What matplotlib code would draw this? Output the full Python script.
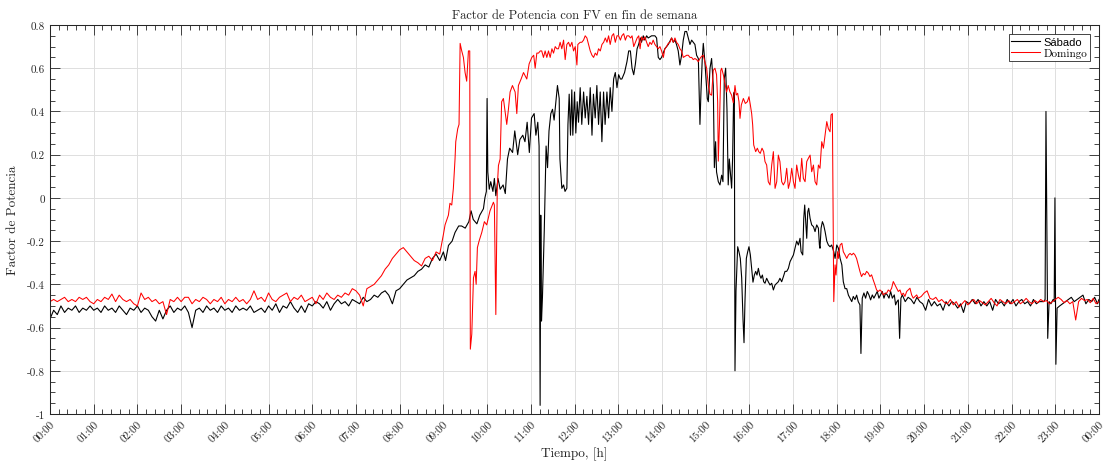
import numpy as np
import matplotlib

matplotlib.use("Agg")
import matplotlib.pyplot as plt
from matplotlib.ticker import MultipleLocator, FuncFormatter
from matplotlib.transforms import ScaledTranslation

plt.rcParams["font.family"] = "cmr10"
plt.rcParams["axes.unicode_minus"] = False
plt.rcParams["mathtext.fontset"] = "cm"

# ---- Sabado (black) ----
# 5-min readings 00:00 .. 08:55
sab_night_min = np.arange(0, 540, 5)
sab_night_fp = [
    -0.56, -0.52, -0.54, -0.50, -0.53, -0.51, -0.52, -0.50, -0.53, -0.51, -0.52, -0.50,
    -0.52, -0.51, -0.53, -0.50, -0.52, -0.51, -0.53, -0.50, -0.52, -0.54, -0.51, -0.52,
    -0.50, -0.53, -0.51, -0.52, -0.55, -0.57, -0.52, -0.56, -0.52, -0.50, -0.53, -0.51,
    -0.52, -0.50, -0.53, -0.60, -0.52, -0.51, -0.53, -0.50, -0.52, -0.51, -0.53, -0.50,
    -0.52, -0.51, -0.53, -0.50, -0.52, -0.51, -0.52, -0.50, -0.53, -0.52, -0.51, -0.53,
    -0.50, -0.52, -0.49, -0.53, -0.50, -0.51, -0.48, -0.51, -0.53, -0.50, -0.53, -0.49,
    -0.50, -0.48, -0.49, -0.51, -0.48, -0.52, -0.49, -0.47, -0.49, -0.48, -0.50, -0.47,
    -0.48, -0.49, -0.46, -0.48, -0.47, -0.45, -0.46, -0.44, -0.43, -0.45, -0.49, -0.43,
    -0.42, -0.40, -0.38, -0.37, -0.36, -0.34, -0.33, -0.31, -0.32, -0.28, -0.26, -0.29,
]
# irregular readings 09:00 .. 19:30
sab_day_min = [
    540, 543, 547, 552, 556, 561, 565, 570, 575, 578, 581, 586, 590, 595, 597, 599,
    600, 601, 603, 605, 608, 610, 612, 615, 618, 622, 625, 628, 631, 635, 638, 642,
    645, 649, 652, 655, 658, 661, 664.6, 667, 669.6, 671.4, 672.8, 673.7, 674.7, 676,
    678.5, 681, 683, 685, 687.5, 689.8, 692, 694, 696.6, 699, 700, 702.6, 705, 707,
    709.5, 711, 712.7, 714.5, 716.3, 717.7, 720, 721.8, 723.7, 725.5, 727.8, 730,
    732.5, 734.7, 737, 739.3, 741.6, 744, 746, 748.4, 750.7, 753, 755.3, 757.6, 759.9,
    762, 764.5, 766.8, 769, 771.4, 773.7, 776, 778.3, 780.6, 783, 785, 788.7, 792,
    794.4, 796.7, 799, 801.3, 803.6, 805.9, 808, 810.5, 812, 814.4, 816.6, 819, 821.2,
    825.8, 828, 830.4, 832.7, 835, 837.3, 839.5, 844, 848.7, 853.3, 855.6, 857.9, 860,
    862.4, 864.7, 867, 869.3, 871.6, 873.9, 876.2, 878.5, 880.8, 883, 885.3, 887.6,
    890, 892.2, 893.6, 895.4, 896.8, 899, 900.5, 902.3, 903.7, 906, 908.2, 910.5, 912,
    913.7, 915, 917.4, 919.7, 922, 923.8, 925.6, 927.5, 929.3, 931, 932.5, 933.9,
    935.7, 937, 938.5, 939.4, 940.3, 941.7, 944, 945.8, 947.6, 949.5, 951.3, 952.7,
    954, 955.9, 957.7, 959.5, 961.4, 963.2, 965, 966.9, 968.7, 970.5, 972.4, 974.2,
    976, 977.9, 979.7, 981.5, 983.8, 986, 988.4, 990.7, 993, 995.3, 997.6, 999.8,
    1002, 1004.4, 1006.7, 1009, 1011.3, 1013.6, 1015.9, 1018.2, 1020.5, 1022.7, 1025,
    1027.3, 1029.6, 1031, 1033.3, 1034.7, 1036, 1037.4, 1038.8, 1040.2, 1041.5,
    1043.4, 1045.6, 1048, 1050.2, 1052.5, 1054.8, 1056.2, 1057, 1058.5, 1060.3, 1062,
    1064, 1066.3, 1068.5, 1070.8, 1073, 1075.9, 1077.7, 1080, 1082.3, 1084.6, 1087,
    1089, 1091.4, 1093.7, 1096, 1098.3, 1100.6, 1102.7, 1105, 1107.3, 1109.5, 1111.8,
    1113.2, 1115, 1117.3, 1119.6, 1121.9, 1124.2, 1126.5, 1128.8, 1131, 1133.3,
    1135.6, 1137.9, 1140.2, 1142.5, 1144.8, 1147, 1149.4, 1151.7, 1154, 1156.3, 1159,
    1160.8, 1162.6, 1164.5, 1166.3, 1168.1, 1170,
]
sab_day_fp = [
    -0.25, -0.29, -0.22, -0.20, -0.16, -0.13, -0.13, -0.14, -0.11, -0.06, -0.10, -0.12, -0.08, -0.05, 0.00, 0.03,
    0.46, 0.12, 0.04, 0.075, 0.03, 0.09, 0.01, 0.09, 0.04, 0.06, 0.02, 0.18, 0.23, 0.21, 0.31, 0.20,
    0.27, 0.29, 0.26, 0.35, 0.21, 0.37, 0.39, 0.29, 0.35, 0.24, -0.96, -0.08, -0.57, -0.46,
    -0.15, 0.24, 0.14, 0.31, 0.39, 0.41, 0.36, 0.43, 0.52, 0.46, 0.18, 0.044, 0.06, 0.03,
    0.045, 0.34, 0.48, 0.29, 0.50, 0.29, 0.49, 0.30, 0.445, 0.35, 0.51, 0.34,
    0.49, 0.37, 0.47, 0.34, 0.51, 0.29, 0.48, 0.37, 0.52, 0.34, 0.49, 0.26, 0.49,
    0.34, 0.49, 0.37, 0.51, 0.40, 0.55, 0.58, 0.51, 0.57, 0.55, 0.55, 0.58, 0.63,
    0.68, 0.68, 0.60, 0.57, 0.62, 0.69, 0.71, 0.74, 0.72, 0.75, 0.73, 0.75, 0.74,
    0.75, 0.75, 0.75, 0.74, 0.65, 0.64, 0.65, 0.69, 0.71, 0.74, 0.72, 0.73, 0.71,
    0.68, 0.615, 0.66, 0.73, 0.77, 0.77, 0.74, 0.71, 0.73, 0.72, 0.71, 0.66,
    0.645, 0.34, 0.49, 0.645, 0.715, 0.63, 0.55, 0.46, 0.445, 0.60, 0.645, 0.52, 0.14,
    0.26, 0.12, 0.075, 0.06, 0.105, 0.075, 0.55, 0.60, 0.41, 0.06, 0.18, 0.12,
    0.045, 0.18, 0.48, 0.49, -0.80, -0.43, -0.226, -0.25, -0.28, -0.37, -0.56, -0.67,
    -0.48, -0.28, -0.25, -0.226, -0.264, -0.326, -0.39, -0.357, -0.34, -0.357, -0.326, -0.357,
    -0.372, -0.357, -0.388, -0.395, -0.372, -0.388, -0.403, -0.395, -0.426, -0.403, -0.395, -0.388,
    -0.372, -0.388, -0.365, -0.34, -0.34, -0.326, -0.295, -0.28, -0.264, -0.233, -0.20,
    -0.218, -0.187, -0.249, -0.264, -0.095, -0.033, -0.11, -0.187, -0.064, -0.048,
    -0.095, -0.125, -0.133, -0.156, -0.125, -0.14, -0.218, -0.233, -0.14, -0.11, -0.125,
    -0.156, -0.20, -0.218, -0.226, -0.218, -0.249, -0.28, -0.218, -0.233, -0.28, -0.31,
    -0.388, -0.42, -0.42, -0.45, -0.465, -0.48, -0.456, -0.47, -0.45, -0.48, -0.495,
    -0.72, -0.464, -0.44, -0.464, -0.433, -0.449, -0.472, -0.449, -0.464, -0.449,
    -0.433, -0.464, -0.449, -0.433, -0.464, -0.441, -0.449, -0.464, -0.433, -0.464, -0.449,
    -0.495, -0.48, -0.472, -0.65, -0.464, -0.449,
]
# 4-min readings 19:34 .. 22:42
sab_late_min = np.arange(1174, 1363, 4)
sab_late_fp = [
    -0.48, -0.46, -0.47, -0.49, -0.46, -0.48, -0.49, -0.52, -0.47, -0.50, -0.48, -0.50,
    -0.49, -0.52, -0.48, -0.50, -0.48, -0.49, -0.51, -0.49, -0.53, -0.48, -0.49, -0.47,
    -0.49, -0.47, -0.50, -0.48, -0.50, -0.48, -0.52, -0.47, -0.49, -0.48, -0.50, -0.47,
    -0.49, -0.47, -0.50, -0.48, -0.47, -0.49, -0.48, -0.50, -0.47, -0.49, -0.48, -0.48,
]
# spikes near 23:00 and end of day
sab_end_min = [1364, 1366, 1367.2, 1369.6, 1371.5, 1374, 1377, 1378.5, 1379.5, 1380.8, 1382.5,
               1386, 1390, 1394, 1398, 1402, 1406, 1410, 1414, 1418, 1422, 1426, 1430, 1434, 1438, 1440]
sab_end_fp = [-0.48, -0.47, 0.40, -0.65, -0.48, -0.49, -0.47, -0.48, 0.0, -0.77, -0.51,
              -0.50, -0.49, -0.48, -0.47, -0.46, -0.48, -0.47, -0.46, -0.45, -0.49, -0.47, -0.48, -0.46, -0.49, -0.47]

# ---- Domingo (red) ----
dom_night_min = np.arange(0, 540, 5)
dom_night_fp = [
    -0.48, -0.47, -0.48, -0.47, -0.46, -0.48, -0.47, -0.48, -0.46, -0.47, -0.46, -0.48,
    -0.49, -0.47, -0.48, -0.46, -0.47, -0.445, -0.48, -0.45, -0.47, -0.48, -0.47, -0.49,
    -0.50, -0.44, -0.47, -0.46, -0.48, -0.47, -0.49, -0.48, -0.54, -0.47, -0.48, -0.46,
    -0.48, -0.46, -0.46, -0.49, -0.47, -0.48, -0.46, -0.47, -0.49, -0.47, -0.48, -0.46,
    -0.49, -0.47, -0.48, -0.46, -0.48, -0.47, -0.49, -0.47, -0.43, -0.47, -0.46, -0.48,
    -0.44, -0.47, -0.48, -0.46, -0.45, -0.44, -0.48, -0.46, -0.47, -0.45, -0.48, -0.47,
    -0.46, -0.49, -0.45, -0.47, -0.44, -0.46, -0.47, -0.45, -0.46, -0.44, -0.45, -0.42,
    -0.43, -0.45, -0.50, -0.42, -0.41, -0.40, -0.38, -0.36, -0.33, -0.31, -0.28, -0.26,
    -0.24, -0.23, -0.25, -0.27, -0.29, -0.30, -0.315, -0.28, -0.27, -0.29, -0.25, -0.26,
]
dom_day_min = [
    540, 542.3, 546.9, 549, 551.5, 553.7, 556, 557, 559.7, 561.5, 563, 565.2, 567.5,
    569.8, 572, 574.4, 576.2, 577, 579, 581.3, 583.5, 585, 586.7, 589, 592.7, 596.3,
    599.5, 604, 608.7, 610, 612, 614, 615.6, 617.9, 620, 622.4, 624.7, 627, 629.3,
    631.6, 634.8, 638.5, 640.8, 643, 646.7, 650, 654.5, 657.7, 661.4, 664, 666, 668.3,
    670.6, 673, 675, 677.4, 679.7, 682, 684.3, 686.6, 689, 691.2, 693.5, 695.8, 698,
    700.3, 702.6, 705, 707.2, 709.5, 711.8, 714, 716.4, 718.7, 721, 723.3, 724.6,
    727.8, 730, 732.4, 734.7, 737, 739.3, 741.6, 744, 746.2, 748.5, 750.8, 753, 755.4,
    757.7, 760, 762.3, 764.6, 766.8, 769, 771.4, 773.7, 776, 778.3, 780.6, 783, 785,
    787.5, 789.8, 792, 794.4, 797, 799, 801.3, 803.6, 806, 808.2, 810, 812, 814.4,
    816.6, 819, 821.2, 823.5, 825.8, 828, 830.4, 832.7, 835, 837.3, 839.5, 842, 844,
    846.4, 848.7, 851, 853.3, 855.6, 857.9, 860, 862.4, 864.7, 867, 869.3, 871.6, 874,
    876.2, 878.5, 880.8, 883, 885.3, 887.6, 890, 892.2, 894.5, 896.8, 899, 901.4,
    903.7, 906, 908.2, 910.5, 912.8, 915, 916.5, 917.4, 919, 920.8, 922, 924.3, 926.6,
    928.8, 931, 933.4, 935.7, 938, 940.3, 942, 944, 945.8, 947.2, 949, 951.8, 954.5,
    957.3, 959.5, 961.4, 963.2, 964.6, 966, 968.7, 971, 972.9, 975, 977.4, 979.7,
    981.5, 983.8, 986, 988.4, 990.7, 993, 995.3, 997.6, 999.8, 1002, 1004.4, 1006.7,
    1009, 1011.3, 1013.6, 1015.9, 1018.2, 1020.5, 1022.7, 1025, 1027.3, 1029.6, 1031.9,
    1034.2, 1036.5, 1038.8, 1041, 1043.4, 1045.6, 1048, 1050.2, 1052.5, 1054.8, 1057,
    1059.4, 1061.7, 1064, 1066.3, 1068.5, 1070.8, 1072.2, 1074, 1075.9, 1077.7, 1079,
    1081, 1082.3, 1084.6, 1087, 1089, 1091.4, 1093.7, 1096, 1098.3, 1100.6, 1102.9,
    1105, 1107.2, 1109.5, 1111.8, 1114, 1116.4, 1118.7, 1121, 1123.3, 1125.6, 1127.8,
    1130, 1132.4, 1134.7, 1137, 1139.3, 1141.6, 1143.9, 1146.2, 1148.5, 1150.7, 1153,
    1155.3, 1157.6, 1159.9, 1162.2, 1164.5, 1166.8, 1169, 1171.4, 1173.6, 1176, 1178.2,
    1180.5, 1182.8, 1185, 1187.4, 1189.7, 1192,
]
dom_day_fp = [
    -0.17, -0.125, -0.08, -0.025, -0.033, 0.044, 0.18, 0.26, 0.32, 0.34, 0.715, 0.68, 0.65,
    0.58, 0.54, 0.68, 0.68, -0.70, -0.63, -0.37, -0.34, -0.40, -0.23, -0.20, -0.16, -0.11,
    -0.125, -0.06, -0.02, -0.033, -0.54, 0.05, 0.15, 0.18, 0.445, 0.46, 0.40, 0.34, 0.41,
    0.49, 0.52, 0.49, 0.39, 0.52, 0.55, 0.58, 0.55, 0.62, 0.65, 0.66, 0.60, 0.67,
    0.67, 0.68, 0.68, 0.65, 0.68, 0.65, 0.68, 0.65, 0.69, 0.67, 0.70, 0.69, 0.69,
    0.72, 0.69, 0.73, 0.64, 0.71, 0.72, 0.70, 0.72, 0.68, 0.70, 0.615, 0.71,
    0.72, 0.72, 0.73, 0.75, 0.74, 0.71, 0.68, 0.66, 0.65, 0.67, 0.66, 0.69, 0.68,
    0.71, 0.72, 0.74, 0.72, 0.75, 0.71, 0.75, 0.76, 0.72, 0.75, 0.75, 0.73, 0.75,
    0.76, 0.73, 0.75, 0.75, 0.74, 0.75, 0.70, 0.72, 0.74, 0.75, 0.69, 0.745, 0.73,
    0.745, 0.72, 0.70, 0.72, 0.71, 0.73, 0.71, 0.70, 0.69, 0.70, 0.68, 0.65, 0.69,
    0.70, 0.715, 0.72, 0.74, 0.72, 0.74, 0.72, 0.71, 0.69, 0.68, 0.65, 0.655, 0.66,
    0.66, 0.65, 0.65, 0.64, 0.645, 0.64, 0.63, 0.645, 0.655, 0.66, 0.63, 0.60,
    0.52, 0.48, 0.475, 0.59, 0.60, 0.57, 0.445, 0.17, 0.34, 0.59, 0.60, 0.57, 0.53,
    0.49, 0.52, 0.49, 0.475, 0.44, 0.52, 0.476, 0.484, 0.445, 0.368, 0.43, 0.46, 0.437,
    0.445, 0.468, 0.43, 0.39, 0.337, 0.245, 0.214, 0.23, 0.214, 0.206, 0.23, 0.214,
    0.168, 0.152, 0.075, 0.06, 0.152, 0.214, 0.044, 0.075, 0.198, 0.168, 0.075, 0.06,
    0.075, 0.137, 0.044, 0.075, 0.137, 0.075, 0.044, 0.152, 0.106, 0.075, 0.183,
    0.09, 0.075, 0.168, 0.183, 0.198, 0.121, 0.152, 0.075, 0.06, 0.152, 0.137,
    0.26, 0.23, 0.29, 0.353, 0.32, 0.306, 0.384, 0.39, -0.48, -0.31, -0.357,
    -0.249, -0.28, -0.218, -0.21, -0.249, -0.264, -0.28, -0.264, -0.257, -0.264, -0.256,
    -0.264, -0.28, -0.31, -0.34, -0.364, -0.35, -0.356, -0.34, -0.348, -0.364, -0.356,
    -0.379, -0.402, -0.426, -0.433, -0.426, -0.433, -0.449, -0.441, -0.441, -0.426, -0.433,
    -0.418, -0.387, -0.402, -0.418, -0.433, -0.426, -0.449, -0.441, -0.456, -0.433, -0.426,
    -0.418, -0.449, -0.464, -0.456, -0.449, -0.464,
]
dom_late_min = np.arange(1196, 1441, 4)
dom_late_fp = [
    -0.456, -0.44, -0.43, -0.465, -0.47, -0.46, -0.48, -0.47, -0.485, -0.49, -0.47, -0.495,
    -0.48, -0.505, -0.49, -0.475, -0.495, -0.48, -0.47, -0.49, -0.475, -0.485, -0.495, -0.48,
    -0.465, -0.485, -0.50, -0.47, -0.48, -0.49, -0.475, -0.49, -0.48, -0.47, -0.49, -0.48,
    -0.465, -0.48, -0.49, -0.475, -0.485, -0.47, -0.48, -0.475, -0.49, -0.48, -0.47, -0.46,
    -0.47, -0.485, -0.475, -0.49, -0.48, -0.565, -0.48, -0.465, -0.475, -0.47, -0.485, -0.465,
    -0.49, -0.48,
]

hour_labels = ["%02d:00" % (h % 24) for h in range(25)]

sab_min = np.concatenate([sab_night_min, sab_day_min, sab_late_min, sab_end_min])
sab_fp = np.concatenate([sab_night_fp, sab_day_fp, sab_late_fp, sab_end_fp])
dom_min = np.concatenate([dom_night_min, dom_day_min, dom_late_min])
dom_fp = np.concatenate([dom_night_fp, dom_day_fp, dom_late_fp])

fig = plt.figure(figsize=(11.15, 4.64), dpi=100)
ax = fig.add_axes([50 / 1115, 1 - 415 / 464, 1049 / 1115, 389 / 464])

ax.plot(sab_min / 60, sab_fp, color="black", lw=0.8, label="Sábado")
ax.plot(dom_min / 60, dom_fp, color="red", lw=0.75, label="Domingo")

ax.set_xlim(0, 24)
ax.set_ylim(-1, 0.8)
ax.set_xticks(range(25))
ax.set_xticklabels(hour_labels, rotation=45, ha="right", va="top",
                   rotation_mode="anchor", fontsize=8)
shift = ScaledTranslation(6 / 100, 0, fig.dpi_scale_trans)
for lbl in ax.get_xticklabels():
    lbl.set_transform(lbl.get_transform() + shift)
ax.xaxis.set_minor_locator(MultipleLocator(0.2))
ax.yaxis.set_major_locator(MultipleLocator(0.2))
ax.yaxis.set_minor_locator(MultipleLocator(0.05))
ax.yaxis.set_major_formatter(FuncFormatter(lambda v, p: "%g" % round(v, 2)))
ax.tick_params(axis="y", labelsize=8)

ax.tick_params(which="both", direction="in", top=True, right=True,
               color="#262626", width=0.6, labelcolor="#262626")
ax.tick_params(which="major", length=7.5, pad=3.5)
ax.tick_params(which="minor", length=3.7)
for s in ax.spines.values():
    s.set_color("#262626")
    s.set_linewidth(0.75)
ax.grid(True, which="major", color="#dedede", lw=0.7)
ax.set_axisbelow(True)

ax.set_title("Factor de Potencia con FV en fin de semana", fontsize=9, pad=5, color="#262626")
ax.set_xlabel("Tiempo, [h]", fontsize=9.5, color="#262626", labelpad=2)
ax.set_ylabel("Factor de Potencia", fontsize=9.5, color="#262626", labelpad=6)

leg = ax.legend(loc="upper right", fancybox=False, edgecolor="#262626", framealpha=1,
                fontsize=8, borderpad=0.25, handlelength=2.6, handletextpad=0.3,
                labelspacing=0.1, borderaxespad=0.8)
leg.get_frame().set_linewidth(0.6)
leg.get_texts()[0].set_fontfamily("Liberation Sans")

fig.savefig("out.png", dpi=100)
